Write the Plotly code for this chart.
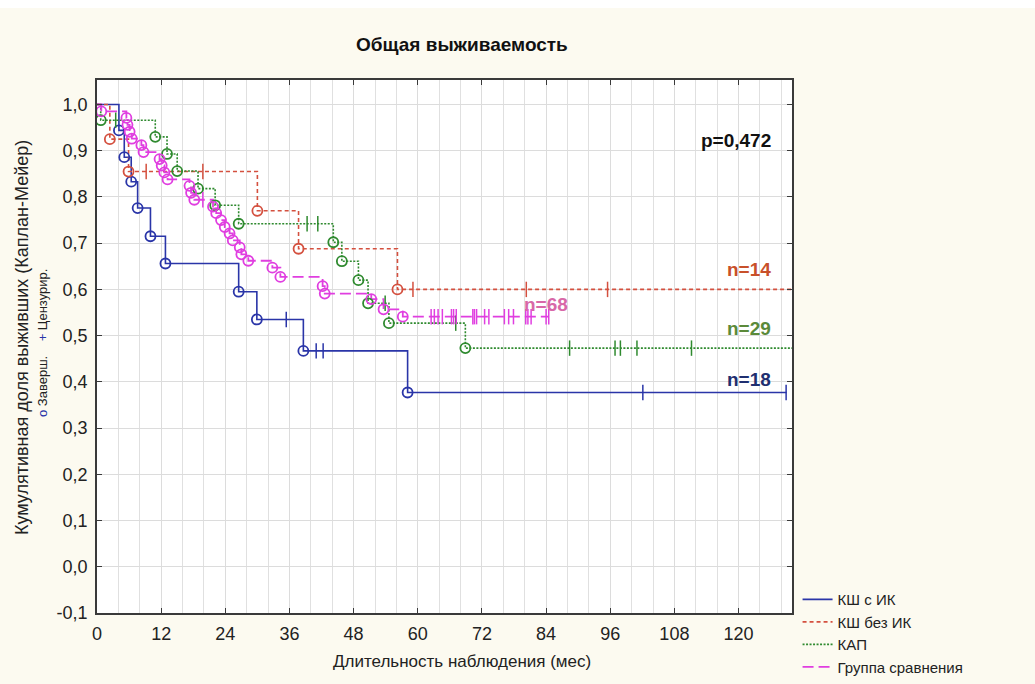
import plotly.graph_objects as go

# ---------------- data ----------------
x_ticks = [0, 12, 24, 36, 48, 60, 72, 84, 96, 108, 120]
y_ticks = [-0.1, 0.0, 0.1, 0.2, 0.3, 0.4, 0.5, 0.6, 0.7, 0.8, 0.9, 1.0]
y_tick_labels = ["-0,1", "0,0", "0,1", "0,2", "0,3", "0,4", "0,5", "0,6", "0,7", "0,8", "0,9", "1,0"]

# КШ с ИК (n=18)
blue_t = [4.1, 5.1, 6.4, 7.6, 10.0, 12.8, 26.5, 29.9, 38.6, 58.1]
blue_s = [0.944, 0.886, 0.833, 0.776, 0.715, 0.656, 0.595, 0.535, 0.467, 0.377]
blue_cens = [35.4, 41.0, 42.3, 102.1, 128.9]
blue_end = 129.0

# КШ без ИК (n=14)
red_t = [2.4, 5.9, 30.0, 37.7, 56.2]
red_s = [0.925, 0.855, 0.770, 0.688, 0.600]
red_cens = [9.2, 19.8, 59.1, 80.3, 95.5]
red_end = 130.0

# КАП (n=29)
green_t = [0.7, 10.9, 13.1, 15.0, 18.9, 22.1, 26.5, 44.2, 45.8, 48.9, 50.7, 54.6, 68.9]
green_s = [0.966, 0.930, 0.893, 0.856, 0.818, 0.782, 0.742, 0.702, 0.661, 0.620, 0.570, 0.527, 0.473]
green_cens = [3.5, 39.3, 41.3, 53.9, 67.1, 88.4, 96.9, 97.9, 101.0, 111.2]
green_end = 130.0

# Группа сравнения (n=68)
pink_t = [0.8, 5.5, 5.7, 6.1, 6.5, 8.3, 8.7, 11.7, 12.1, 12.6, 13.2, 17.3, 17.6, 18.2,
          21.7, 22.3, 23.2, 23.9, 24.8, 25.4, 26.7, 27.0, 28.3, 32.8, 34.3, 42.2, 42.6,
          51.3, 53.6, 57.2]
pink_s = [0.985, 0.971, 0.956, 0.941, 0.926, 0.912, 0.897, 0.882, 0.868, 0.853, 0.838,
          0.824, 0.809, 0.794, 0.779, 0.765, 0.750, 0.735, 0.721, 0.706, 0.691, 0.676,
          0.662, 0.647, 0.627, 0.607, 0.591, 0.579, 0.557, 0.541]
pink_cens = [19.8, 62.5, 63.1, 63.8, 64.6, 66.3, 66.7, 67.2, 70.3, 70.6, 71.0, 72.5, 73.3,
             76.2, 77.0, 77.9, 80.2, 80.6, 81.2, 84.0, 84.5]
pink_end = 84.5

# ---------------- styling ----------------
FONT = "Liberation Sans Narrow, Liberation Sans, Arial, sans-serif"
FONTB = "Liberation Sans, Arial, sans-serif"
BLUE, RED, GREEN, PINK = "#2a35a8", "#d4503f", "#2f8a2f", "#e03ee0"

def surv_at(ts, ss, t):
    v = 1.0
    for ti, si in zip(ts, ss):
        if ti <= t:
            v = si
    return v

series = [
    ("КШ с ИК", blue_t, blue_s, blue_cens, blue_end, BLUE, "solid", 1.6),
    ("КШ без ИК", red_t, red_s, red_cens, red_end, RED, "4px,3px", 1.6),
    ("КАП", green_t, green_s, green_cens, green_end, GREEN, "2px,1.5px", 1.6),
    ("Группа сравнения", pink_t, pink_s, pink_cens, pink_end, PINK, "11px,5px", 1.8),
]

fig = go.Figure()
for name, ts, ss, cens, end, col, dash, w in series:
    xs = [0.0] + list(ts) + [end]
    ys = [1.0] + list(ss) + [ss[-1]]
    fig.add_trace(go.Scatter(x=xs, y=ys, mode="lines", line=dict(color=col, width=w, dash=dash, shape="hv"),
                             name=name, showlegend=True))
for name, ts, ss, cens, end, col, dash, w in series:
    fig.add_trace(go.Scatter(x=ts, y=ss, mode="markers", showlegend=False,
                             marker=dict(symbol="circle-open", size=10, color=col, line=dict(width=1.8, color=col))))
    fig.add_trace(go.Scatter(x=cens, y=[surv_at(ts, ss, c) for c in cens], mode="markers", showlegend=False,
                             marker=dict(symbol="line-ns", size=11, color=col, line=dict(width=1.5, color=col))))

# ---------------- annotations ----------------
ann = [
    dict(x=126.5, y=0.923, text="<b>p=0,472</b>", color="#111111", anchor="right"),
    dict(x=126.5, y=0.643, text="<b>n=14</b>", color="#c8502a", anchor="right"),
    dict(x=126.5, y=0.516, text="<b>n=29</b>", color="#5b8a3a", anchor="right"),
    dict(x=126.5, y=0.406, text="<b>n=18</b>", color="#1f2f70", anchor="right"),
    dict(x=79.5, y=0.568, text="<b>n=68</b>", color="#d868a8", anchor="left"),
]
for a in ann:
    fig.add_annotation(x=a["x"], y=a["y"], xref="x", yref="y", text=a["text"], showarrow=False,
                       xanchor=a["anchor"], yanchor="middle",
                       font=dict(family=FONTB, size=19, color=a["color"]))

fig.add_annotation(x=(462 - 97) / 695, y=(613 - 44) / 533, xref="paper", yref="paper",
                   text="<b>Общая выживаемость</b>", showarrow=False, xanchor="center", yanchor="middle",
                   font=dict(family=FONTB, size=19, color="#111111"))
fig.add_annotation(x=(462 - 97) / 695, y=(613 - 661) / 533, xref="paper", yref="paper",
                   text="Длительность наблюдения (мес)", showarrow=False, xanchor="center", yanchor="middle",
                   font=dict(family=FONT, size=17, color="#222222"))
fig.add_annotation(x=(22 - 97) / 695, y=(613 - 338) / 533, xref="paper", yref="paper",
                   text="Кумулятивная доля выживших (Каплан-Мейер)", textangle=-90, showarrow=False,
                   xanchor="center", yanchor="middle", font=dict(family=FONT, size=18, color="#222222"))
fig.add_annotation(x=(42 - 97) / 695, y=(613 - 343) / 533, xref="paper", yref="paper",
                   text=f"<span style='color:{BLUE}'>o</span> Заверш.    <span style='color:{BLUE}'>+</span> Цензурир.",
                   textangle=-90, showarrow=False, xanchor="center", yanchor="middle",
                   font=dict(family=FONT, size=13, color="#222222"))

# thin white strip along the very top of the image
fig.add_shape(type="rect", xref="paper", yref="paper", x0=-97 / 695, x1=(1035 - 97) / 695,
              y0=1 + 72 / 533, y1=1 + 80 / 533, fillcolor="#ffffff", line=dict(width=0), layer="below")

fig.update_layout(
    width=1035, height=684,
    margin=dict(l=97, r=243, t=80, b=71, autoexpand=False),
    paper_bgcolor="#fcfaf0", plot_bgcolor="#ffffff",
    font=dict(family=FONT, size=16, color="#222222"),
    showlegend=True,
    legend=dict(x=1.008, y=0.056, xanchor="left", yanchor="top", bgcolor="rgba(0,0,0,0)",
                font=dict(family=FONTB, size=15, color="#222222"), tracegroupgap=0, itemwidth=30),
)
fig.update_xaxes(range=[0, 130], tickmode="array", tickvals=x_ticks, ticktext=[str(v) for v in x_ticks],
                 showgrid=True, gridcolor="#dcdcdc", gridwidth=1, automargin=False,
                 minor=dict(dtick=4, tick0=0, showgrid=True, gridcolor="#e0e0e0", gridwidth=1),
                 zeroline=False, showline=True, linecolor="#3a3a3a", linewidth=1.5, mirror="ticks",
                 ticks="inside", ticklen=5, tickcolor="#3a3a3a", ticklabelstandoff=4,
                 tickfont=dict(family=FONT, size=18, color="#222222"))
fig.update_yaxes(range=[-0.1, 1.053], tickmode="array", tickvals=y_ticks, ticktext=y_tick_labels,
                 showgrid=True, gridcolor="#dcdcdc", gridwidth=1, zeroline=False, automargin=False,
                 showline=True, linecolor="#3a3a3a", linewidth=1.5, mirror="ticks",
                 ticks="inside", ticklen=5, tickcolor="#3a3a3a", ticklabelstandoff=4,
                 tickfont=dict(family=FONT, size=18, color="#222222"))

fig.write_html("out.html")
